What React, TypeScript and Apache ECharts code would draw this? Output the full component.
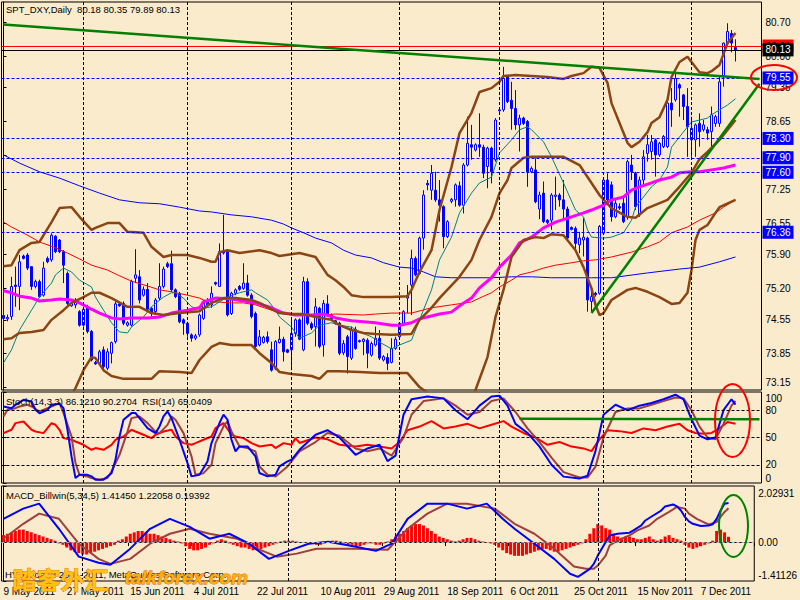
import React, { useEffect, useRef } from "react";
import * as echarts from "echarts";

const SLOTS = 190;
const FONT = "'Liberation Sans', Arial, sans-serif";
const BG = "#FAEBCD";

const dateTicks: [number, string][] = [
  [0, "9 May 2011"], [16, "27 May 2011"], [32, "15 Jun 2011"], [48, "4 Jul 2011"],
  [64, "22 Jul 2011"], [80, "10 Aug 2011"], [96, "29 Aug 2011"], [112, "18 Sep 2011"],
  [128, "6 Oct 2011"], [144, "25 Oct 2011"], [160, "15 Nov 2011"], [176, "7 Dec 2011"],
];
const monthStarts = [20, 46, 72, 99, 124, 150, 172];
const priceTicks = [80.7, 80.0, 79.35, 78.65, 77.95, 77.25, 76.55, 75.9, 75.2, 74.55, 73.85, 73.15];
const stochTicks = [0, 20, 50, 80, 100];
const macdTicks = [-1.41126, 0, 2.02931];
const blueLevels = [79.55, 78.3, 77.9, 77.6, 76.36];

// [open, close, low, high]
const ohlc: number[][] = [
  [74.64, 74.58, 74.42, 75.12], [74.57, 74.6, 74.52, 74.66], [74.62, 75.24, 74.55, 75.44], [75.27, 75.24, 74.82, 75.65],
  [75.24, 75.75, 74.75, 75.89], [75.87, 75.82, 75.8, 75.9], [75.89, 75.62, 75.58, 75.93], [75.65, 75.24, 75.17, 75.65],
  [75.24, 75.34, 75.2, 75.38], [75.34, 75.03, 75.0, 75.38], [75.06, 75.62, 75.03, 75.75], [75.82, 75.75, 75.72, 75.86],
  [75.79, 76.3, 75.75, 76.34], [76.28, 75.96, 75.93, 76.3], [76.2, 75.96, 75.93, 76.22], [75.96, 75.68, 75.31, 75.99],
  [75.51, 74.89, 74.86, 75.55], [74.84, 74.89, 74.82, 74.92], [74.86, 74.93, 74.79, 75.0], [74.72, 74.44, 74.41, 74.75],
  [74.44, 74.77, 74.41, 74.82], [74.82, 74.31, 74.27, 74.86], [74.31, 73.72, 73.69, 74.34], [73.67, 73.64, 73.62, 73.7],
  [73.65, 73.89, 73.62, 73.93], [73.93, 73.58, 73.51, 74.0], [73.55, 73.89, 73.51, 73.96], [73.86, 74.08, 73.65, 74.1],
  [74.1, 74.88, 74.06, 74.93], [74.88, 74.84, 74.82, 74.9], [74.89, 74.48, 74.44, 74.93], [74.44, 74.49, 74.41, 74.52],
  [74.44, 75.34, 74.41, 75.38], [75.41, 75.48, 75.31, 76.01], [75.44, 74.96, 74.89, 75.58], [75.06, 75.18, 75.03, 75.24],
  [75.18, 74.77, 74.75, 75.31], [74.79, 74.68, 74.62, 74.82], [74.72, 74.96, 74.68, 75.0], [75.0, 75.24, 74.96, 75.72],
  [75.24, 75.6, 75.2, 75.65], [75.71, 75.65, 75.62, 75.75], [75.71, 75.17, 75.13, 75.98], [75.17, 75.03, 75.0, 75.2],
  [75.09, 74.51, 74.48, 75.13], [74.55, 74.48, 74.24, 74.58], [74.48, 74.27, 74.2, 74.51], [74.24, 74.17, 74.1, 74.27],
  [74.17, 74.22, 74.13, 74.26], [74.24, 74.65, 74.2, 74.68], [74.58, 74.93, 74.55, 74.96], [74.93, 74.86, 74.82, 75.0],
  [74.86, 75.1, 74.8, 75.24], [75.32, 75.29, 75.26, 75.34], [75.24, 75.96, 75.24, 76.13], [75.96, 75.93, 75.9, 76.72],
  [75.96, 74.65, 74.62, 75.99], [74.68, 75.1, 74.65, 75.13], [75.1, 75.17, 75.06, 75.2], [75.24, 75.18, 75.15, 75.27],
  [75.2, 75.31, 75.17, 75.72], [75.31, 75.06, 75.03, 75.48], [75.06, 74.62, 74.58, 75.1], [74.68, 74.0, 73.96, 74.72],
  [74.03, 74.2, 74.0, 74.34], [74.08, 74.19, 74.06, 74.22], [74.2, 74.1, 74.06, 74.31], [73.93, 73.51, 73.48, 74.1],
  [73.55, 74.1, 73.51, 74.13], [74.08, 74.15, 74.06, 74.41], [74.15, 73.89, 73.69, 74.2], [73.93, 73.88, 73.86, 73.95],
  [73.93, 74.27, 73.51, 74.55], [74.27, 74.55, 74.2, 74.58], [74.55, 74.15, 74.13, 74.58], [73.93, 75.34, 73.9, 75.44],
  [75.34, 74.48, 74.44, 75.41], [74.47, 74.38, 74.34, 74.51], [74.41, 74.82, 74.0, 75.0], [74.79, 74.0, 73.96, 74.82],
  [74.03, 74.89, 73.79, 74.96], [74.88, 74.65, 74.62, 75.06], [74.65, 74.58, 74.55, 74.68], [74.53, 74.48, 74.45, 74.55],
  [74.48, 73.86, 73.82, 74.51], [73.87, 74.06, 73.82, 74.13], [74.2, 73.79, 73.44, 74.24], [73.76, 74.35, 73.72, 74.41],
  [74.35, 73.96, 73.93, 74.41], [74.12, 74.1, 74.08, 74.14], [74.1, 74.15, 73.82, 74.17], [74.13, 73.86, 73.55, 74.17],
  [73.82, 74.06, 73.79, 74.1], [74.03, 74.17, 74.0, 74.41], [74.17, 73.76, 73.72, 74.34], [73.72, 73.79, 73.69, 73.82],
  [73.77, 73.65, 73.51, 73.86], [73.67, 73.96, 73.65, 74.17], [73.96, 74.15, 73.93, 74.2], [74.2, 74.48, 74.17, 74.5],
  [74.48, 74.72, 74.45, 74.75], [75.0, 75.06, 74.69, 75.27], [75.27, 75.82, 74.65, 76.0], [75.82, 75.48, 75.45, 75.86],
  [75.51, 76.24, 75.48, 76.27], [76.24, 77.13, 76.0, 77.23], [77.37, 77.34, 77.23, 77.44], [77.23, 77.58, 77.03, 77.75],
  [77.23, 77.03, 76.99, 77.61], [77.03, 76.92, 76.58, 77.44], [76.89, 76.27, 76.03, 76.92], [76.27, 76.58, 76.24, 76.61],
  [77.0, 77.04, 76.96, 77.07], [77.03, 77.34, 76.89, 77.37], [77.32, 76.92, 76.89, 77.41], [76.92, 77.75, 76.75, 77.79],
  [77.75, 78.2, 77.72, 78.75], [78.17, 78.12, 77.86, 78.58], [78.06, 78.17, 78.03, 78.2], [78.17, 78.12, 77.92, 78.82],
  [78.12, 77.58, 77.48, 78.17], [77.72, 78.1, 77.27, 78.13], [78.1, 77.61, 77.37, 78.13], [77.86, 78.68, 77.82, 78.72],
  [78.87, 78.89, 78.85, 78.92], [78.89, 79.54, 78.85, 79.78], [79.58, 79.06, 79.03, 79.61], [79.09, 78.92, 78.48, 79.47],
  [78.92, 78.58, 78.48, 79.3], [78.58, 78.72, 78.03, 78.79], [78.72, 78.61, 78.58, 78.75], [78.65, 77.61, 77.3, 78.68],
  [77.61, 77.68, 77.58, 77.72], [77.65, 76.99, 76.96, 77.89], [76.84, 77.13, 76.63, 77.2], [77.17, 76.58, 76.55, 77.41],
  [76.61, 76.56, 76.53, 76.63], [76.61, 77.13, 76.41, 77.17], [77.1, 77.13, 76.82, 77.51], [77.13, 77.03, 76.89, 77.17],
  [77.03, 76.84, 76.65, 77.44], [76.84, 76.24, 76.2, 76.89], [76.46, 76.42, 76.4, 76.48], [76.44, 76.13, 75.96, 76.48],
  [76.1, 76.24, 75.93, 76.37], [76.2, 76.26, 75.86, 76.65], [76.24, 74.96, 74.72, 76.27], [74.93, 75.03, 74.72, 75.13],
  [75.1, 75.07, 75.03, 75.13], [75.1, 76.48, 75.07, 76.51], [76.34, 77.44, 76.3, 77.48], [77.44, 77.03, 76.96, 77.58],
  [77.34, 76.68, 76.58, 77.41], [76.68, 76.96, 76.65, 77.03], [76.89, 76.86, 76.82, 76.96], [76.96, 76.58, 76.55, 77.1],
  [76.68, 77.82, 76.62, 77.86], [77.75, 77.61, 77.44, 77.96], [77.58, 76.89, 76.82, 77.61], [76.72, 77.44, 76.68, 77.51],
  [77.44, 77.92, 77.3, 78.06], [77.99, 78.17, 77.82, 78.37], [78.03, 78.23, 77.86, 78.37], [78.27, 77.96, 77.51, 78.3],
  [77.96, 78.2, 77.92, 78.23], [78.13, 78.34, 78.1, 78.37], [78.13, 79.03, 78.1, 79.1], [79.03, 78.89, 78.54, 79.34],
  [79.1, 79.54, 79.06, 79.65], [79.41, 79.34, 78.75, 79.44], [79.2, 78.96, 78.68, 79.22], [78.96, 78.54, 77.92, 79.34],
  [78.27, 78.51, 77.92, 78.75], [78.27, 78.58, 77.92, 78.61], [78.61, 78.44, 78.13, 78.82], [78.48, 78.58, 78.44, 78.68],
  [78.48, 78.41, 78.27, 78.54], [78.44, 78.79, 78.1, 78.96], [78.61, 78.75, 78.54, 78.79], [78.61, 79.47, 78.54, 79.58],
  [79.59, 80.27, 79.37, 80.28], [80.27, 80.51, 80.23, 80.68], [80.47, 80.27, 80.08, 80.54], [80.18, 80.13, 79.89, 80.35],
];

// sampled indicator readings: [bar index, value]
const bbUpper: number[][] = [
  [0, 75.66], [2, 75.68], [4, 75.99], [7, 76.14], [9, 76.16], [12, 76.57], [14, 76.86], [17, 76.88], [19, 76.68],
  [22, 76.41], [23, 76.45], [26, 76.55], [29, 76.55], [31, 76.37], [35, 76.35], [37, 76.06], [40, 75.85], [42, 75.89],
  [46, 75.89], [49, 75.83], [52, 75.75], [53, 75.75], [54, 75.95], [56, 75.99], [59, 75.93], [64, 75.99], [67, 75.93],
  [69, 75.87], [74, 75.93], [78, 75.85], [81, 75.48], [83, 75.37], [85, 75.23], [87, 75.06], [90, 75.02], [97, 75.02],
  [101, 75.04], [102, 75.17], [104, 75.54], [107, 75.99], [109, 76.82], [112, 77.71], [114, 78.41], [117, 78.83],
  [119, 79.26], [122, 79.34], [124, 79.47], [125, 79.59], [128, 79.61], [136, 79.57], [140, 79.53], [142, 79.59],
  [145, 79.65], [147, 79.78], [149, 79.76], [151, 79.45], [152, 79.03], [154, 78.62], [156, 78.21], [157, 78.12],
  [159, 78.23], [161, 78.43], [162, 78.62], [164, 78.74], [166, 79.1], [167, 79.57], [169, 79.88], [171, 79.99],
  [172, 79.88], [174, 79.67], [176, 79.65], [177, 79.69], [179, 79.82], [181, 80.27], [183, 80.48],
];
const bbMiddle: number[][] = [
  [0, 74.15], [2, 74.17], [4, 74.28], [7, 74.3], [10, 74.34], [12, 74.55], [15, 74.75], [17, 74.9], [20, 75.02],
  [22, 75.11], [24, 75.11], [27, 75.0], [31, 74.82], [34, 74.82], [37, 74.69], [40, 74.65], [44, 74.69], [49, 74.73],
  [52, 74.9], [55, 75.0], [58, 75.0], [62, 74.96], [64, 74.9], [67, 74.77], [69, 74.69], [72, 74.67], [75, 74.67],
  [78, 74.61], [82, 74.55], [84, 74.44], [87, 74.34], [90, 74.28], [93, 74.26], [97, 74.24], [102, 74.26], [104, 74.55],
  [107, 74.8], [109, 75.0], [114, 75.44], [117, 75.79], [119, 76.2], [122, 76.68], [124, 77.17], [126, 77.44],
  [127, 77.69], [130, 77.9], [132, 77.92], [140, 77.92], [144, 77.75], [147, 77.38], [149, 77.13], [152, 76.86],
  [156, 76.68], [158, 76.66], [161, 76.86], [166, 77.03], [169, 77.3], [172, 77.59], [174, 77.87], [176, 78.02],
  [179, 78.27], [183, 78.68],
];
const bbLower: number[][] = [
  [16, 72.85], [18, 73.14], [20, 73.51], [22, 73.78], [23, 73.76], [25, 73.51], [27, 73.39], [30, 73.33], [37, 73.33],
  [39, 73.49], [44, 73.47], [47, 73.45], [49, 73.72], [52, 73.99], [54, 74.07], [57, 74.03], [62, 74.03], [64, 73.86],
  [67, 73.66], [69, 73.47], [72, 73.43], [77, 73.39], [79, 73.33], [81, 73.49], [84, 73.49], [89, 73.47], [94, 73.45],
  [101, 73.45], [104, 73.16], [107, 72.98], [110, 72.9], [113, 72.6], [116, 72.7], [118, 73.1], [121, 73.78],
  [123, 74.61], [125, 75.17], [127, 75.85], [130, 76.2], [133, 76.26], [135, 76.24], [137, 76.32], [140, 76.3],
  [143, 75.99], [145, 75.64], [147, 75.2], [148, 74.86], [149, 74.65], [150, 74.69], [152, 74.96], [156, 75.17],
  [158, 75.21], [161, 75.13], [164, 75.02], [167, 74.88], [169, 74.9], [171, 75.11], [172, 75.58], [173, 76.2],
  [174, 76.41], [176, 76.51], [178, 76.76], [179, 76.88], [183, 77.03],
];
const maTeal: number[][] = [
  [0, 73.66], [2, 73.93], [4, 74.34], [7, 74.75], [9, 75.02], [12, 75.31], [13, 75.48], [15, 75.62], [17, 75.54],
  [19, 75.37], [22, 75.23], [23, 75.02], [25, 74.75], [27, 74.49], [29, 74.3], [31, 74.28], [32, 74.4], [35, 74.61],
  [37, 74.82], [40, 75.02], [42, 75.11], [43, 75.11], [45, 75.0], [47, 74.82], [49, 74.77], [52, 74.82], [54, 74.92],
  [56, 75.02], [59, 75.11], [62, 75.17], [63, 75.11], [66, 74.96], [68, 74.75], [69, 74.61], [72, 74.4], [74, 74.17],
  [77, 74.28], [79, 74.44], [82, 74.49], [84, 74.44], [87, 74.4], [89, 74.3], [92, 74.2], [94, 74.09], [97, 73.95],
  [99, 74.03], [102, 74.13], [104, 74.55], [107, 75.17], [109, 75.79], [112, 76.26], [114, 76.76], [117, 77.17],
  [119, 77.38], [122, 77.5], [124, 78.0], [127, 78.27], [129, 78.48], [131, 78.54], [132, 78.48], [135, 78.23],
  [137, 77.92], [140, 77.38], [143, 76.82], [145, 76.68], [146, 76.41], [147, 76.26], [150, 76.24], [152, 76.26],
  [155, 76.35], [157, 76.61], [158, 76.88], [160, 77.09], [162, 77.3], [164, 77.44], [166, 77.71], [167, 78.12],
  [169, 78.33], [171, 78.54], [172, 78.64], [174, 78.68], [176, 78.72], [177, 78.79], [179, 78.89], [181, 78.99],
  [183, 79.12],
];
const maMagenta: number[][] = [
  [0, 75.15], [2, 75.11], [4, 75.04], [7, 75.0], [9, 74.94], [12, 74.96], [14, 74.98], [17, 74.96], [19, 74.9],
  [22, 74.77], [24, 74.69], [27, 74.59], [29, 74.57], [32, 74.59], [36, 74.59], [39, 74.61], [42, 74.69], [46, 74.75],
  [49, 74.8], [50, 74.92], [53, 75.0], [57, 74.98], [60, 74.94], [63, 74.9], [67, 74.8], [70, 74.69], [73, 74.65],
  [77, 74.65], [80, 74.67], [83, 74.59], [87, 74.53], [90, 74.51], [93, 74.49], [97, 74.44], [99, 74.44], [102, 74.49],
  [104, 74.57], [107, 74.63], [109, 74.67], [112, 74.71], [114, 74.84], [117, 75.0], [119, 75.21], [122, 75.42],
  [124, 75.64], [127, 75.89], [129, 76.14], [132, 76.26], [135, 76.45], [138, 76.57], [142, 76.68], [145, 76.76],
  [147, 76.82], [150, 76.92], [152, 77.03], [155, 77.09], [157, 77.23], [159, 77.3], [162, 77.38], [164, 77.44],
  [167, 77.5], [169, 77.59], [172, 77.61], [174, 77.61], [177, 77.65], [180, 77.69], [183, 77.75],
];
const maRed: number[][] = [
  [0, 76.57], [2, 76.47], [6, 76.3], [9, 76.16], [13, 76.04], [16, 75.93], [19, 75.81], [22, 75.68], [26, 75.58],
  [29, 75.46], [32, 75.35], [36, 75.25], [39, 75.17], [42, 75.13], [46, 75.06], [49, 75.0], [50, 74.96], [53, 74.92],
  [57, 74.9], [60, 74.9], [63, 74.86], [67, 74.75], [70, 74.69], [73, 74.65], [80, 74.65], [83, 74.67], [90, 74.65],
  [93, 74.67], [97, 74.69], [102, 74.69], [107, 74.8], [112, 74.86], [117, 74.92], [119, 75.0], [122, 75.11],
  [124, 75.23], [127, 75.37], [129, 75.48], [132, 75.54], [135, 75.62], [138, 75.68], [142, 75.73], [145, 75.77],
  [148, 75.79], [152, 75.85], [157, 75.95], [161, 76.06], [164, 76.16], [167, 76.35], [171, 76.47], [174, 76.61],
  [178, 76.76], [180, 76.88], [183, 77.03],
];
const maBlue: number[][] = [
  [0, 77.96], [4, 77.79], [9, 77.61], [14, 77.48], [19, 77.32], [24, 77.17], [29, 77.03], [34, 76.97], [39, 76.95],
  [44, 76.88], [49, 76.8], [52, 76.78], [57, 76.72], [62, 76.68], [67, 76.61], [70, 76.53], [72, 76.45], [75, 76.35],
  [78, 76.24], [82, 76.14], [85, 75.99], [88, 75.89], [92, 75.83], [95, 75.73], [99, 75.64], [102, 75.62], [105, 75.54],
  [108, 75.44], [112, 75.42], [122, 75.42], [127, 75.44], [132, 75.44], [137, 75.42], [147, 75.42], [152, 75.42],
  [161, 75.52], [169, 75.6], [174, 75.64], [179, 75.75], [183, 75.85],
];

const stochK: number[][] = [
  [0, 84.1], [2, 82.2], [3, 85.9], [5, 91.4], [7, 89.5], [8, 80.4], [9, 76.6], [11, 80.4], [12, 85.9], [14, 87.0],
  [15, 82.2], [16, 58.5], [17, 29.2], [18, 5.4], [19, 9.0], [21, 9.0], [22, 7.3], [23, 3.5], [25, 3.5], [27, 10.8],
  [28, 25.5], [29, 51.2], [30, 69.5], [32, 76.8], [33, 76.8], [34, 71.3], [36, 60.3], [38, 54.8], [39, 62.1],
  [40, 73.1], [41, 78.6], [42, 71.3], [44, 47.5], [46, 21.9], [47, 7.3], [49, 9.0], [51, 23.7], [52, 43.9], [54, 65.9],
  [55, 75.1], [56, 69.5], [57, 47.5], [58, 34.7], [59, 40.2], [61, 40.2], [63, 29.2], [64, 11.0], [66, 7.3], [68, 9.0],
  [69, 18.2], [71, 23.7], [72, 25.5], [74, 36.5], [78, 53], [81, 58], [84, 50], [88, 31], [91, 38], [94, 42], [96, 24],
  [98, 30], [100, 75], [102, 92], [106, 95], [110, 93], [113, 80], [116, 70], [119, 85], [122, 95], [124, 96],
  [126, 85], [128, 65], [131, 55], [134, 40], [137, 20], [140, 7], [144, 5], [146, 8], [148, 35], [150, 75], [153, 86],
  [156, 80], [159, 85], [162, 88], [165, 92], [168, 97], [170, 92], [172, 70], [174, 52], [176, 48], [178, 50],
  [180, 80], [182, 92], [183, 86.12],
];
const stochD: number[][] = [
  [0, 73.1], [1, 80.4], [3, 82.2], [4, 84.1], [6, 85.9], [7, 84.1], [9, 78.6], [11, 82.2], [12, 84.1], [14, 87.7],
  [15, 76.8], [17, 51.2], [18, 21.9], [19, 9.0], [21, 7.1], [22, 5.4], [24, 3.5], [26, 5.4], [27, 12.6], [29, 30.9],
  [31, 56.5], [32, 71.3], [34, 73.1], [36, 65.8], [38, 56.5], [39, 54.8], [41, 63.9], [42, 73.1], [43, 69.5],
  [45, 54.8], [47, 29.2], [48, 9.0], [50, 10.8], [52, 20.0], [53, 43.8], [55, 62.1], [56, 67.6], [57, 56.6], [59, 40.2],
  [61, 38.3], [63, 34.7], [64, 18.2], [66, 9.0], [68, 7.1], [69, 10.8], [71, 18.2], [72, 23.7], [74, 34.7], [78, 45],
  [81, 55], [84, 52], [88, 38], [91, 35], [94, 38], [97, 30], [100, 50], [102, 75], [105, 90], [110, 93], [113, 85],
  [116, 75], [119, 78], [122, 90], [125, 93], [128, 78], [131, 60], [134, 45], [137, 28], [140, 12], [144, 6],
  [146, 6], [148, 18], [150, 50], [153, 78], [156, 82], [159, 82], [162, 86], [165, 90], [168, 94], [170, 93],
  [172, 80], [174, 62], [176, 50], [178, 48], [180, 65], [182, 85], [183, 90.27],
];
const rsi: number[][] = [
  [0, 54.8], [2, 58.5], [3, 65.8], [5, 67.6], [7, 58.5], [8, 56.6], [10, 54.8], [12, 65.8], [13, 64.0], [14, 58.5],
  [15, 49.3], [17, 47.5], [18, 45.6], [20, 42.0], [22, 36.5], [23, 38.4], [25, 36.5], [27, 42.0], [28, 47.5],
  [30, 51.1], [32, 58.5], [33, 56.6], [35, 53.0], [37, 49.3], [38, 53.0], [40, 56.6], [42, 58.5], [43, 51.1],
  [45, 43.8], [47, 42.0], [48, 43.8], [50, 47.5], [52, 51.1], [53, 60.3], [55, 65.8], [57, 53.0], [58, 51.1],
  [60, 49.3], [62, 43.8], [64, 40.1], [67, 42.0], [68, 38.4], [70, 43.8], [72, 42.0], [73, 49.3], [74, 44], [78, 50],
  [81, 48], [84, 42], [88, 40], [91, 42], [94, 40], [97, 38], [99, 45], [101, 58], [104, 62], [107, 68], [110, 60],
  [113, 62], [116, 65], [119, 60], [122, 64], [125, 68], [127, 62], [130, 55], [133, 50], [136, 42], [139, 45],
  [142, 40], [145, 38], [147, 35], [149, 48], [151, 58], [154, 57], [157, 55], [160, 60], [163, 58], [166, 62],
  [169, 65], [171, 58], [173, 55], [175, 54], [177, 55], [179, 60], [181, 67], [183, 65.04],
];

const macdMain: number[][] = [
  [0, 0.84], [5, 1.21], [9, 1.39], [14, 0.48], [19, -0.53], [24, -0.75], [27, -0.82], [32, -0.24], [37, 0.48],
  [42, 0.84], [47, 0.55], [52, 0.12], [57, 0.3], [62, -0.06], [67, -0.61], [72, -0.32], [77, -0.06], [82, 0.01],
  [89, -0.17], [94, -0.32], [98, -0.06], [102, 0.84], [107, 1.39], [112, 1.39], [117, 1.21], [122, 1.39], [126, 0.84],
  [129, 0.48], [134, -0.06], [139, -0.61], [143, -1.15], [145, -1.26], [148, -0.97], [149, -0.79], [150, -0.49],
  [151, -0.24], [152, 0.0], [153, 0.24], [155, 0.3], [158, 0.34], [159, 0.42], [161, 0.6], [162, 0.78], [164, 0.96],
  [166, 1.14], [167, 1.29], [169, 1.36], [170, 1.29], [171, 1.14], [172, 0.91], [173, 0.75], [174, 0.66], [176, 0.58],
  [178, 0.6], [179, 0.64], [180, 0.84], [181, 1.14], [182, 1.39], [183, 1.4145],
];
const macdSignal: number[][] = [
  [0, 0.12], [5, 0.66], [9, 1.03], [14, 0.84], [19, -0.06], [24, -0.61], [27, -0.79], [32, -0.61], [37, -0.06],
  [42, 0.3], [47, 0.48], [52, 0.3], [59, 0.12], [64, -0.24], [69, -0.53], [74, -0.42], [79, -0.24], [89, -0.24],
  [97, -0.28], [102, 0.48], [107, 1.03], [112, 1.39], [117, 1.39], [124, 1.21], [129, 0.66], [134, 0.3], [139, -0.24],
  [144, -0.89], [147, -0.97], [149, -0.97], [150, -0.85], [152, -0.49], [153, -0.12], [155, 0.06], [158, 0.24],
  [160, 0.42], [163, 0.6], [165, 0.84], [168, 1.09], [170, 1.27], [172, 1.21], [173, 1.03], [175, 0.84], [177, 0.7],
  [178, 0.64], [180, 0.72], [181, 0.91], [182, 1.09], [183, 1.2206],
];
const macdHist: number[] = [
  0.25, 0.3, 0.35, 0.4, 0.45, 0.45, 0.4, 0.35, 0.3, 0.25, 0.2, 0.15, 0.1, 0.05,
  -0.05, -0.1, -0.2, -0.3, -0.35, -0.4, -0.45, -0.45, -0.4, -0.35, -0.3, -0.25, -0.2, -0.15, -0.1,
  0.05, 0.1, 0.2, 0.3, 0.35, 0.4, 0.4, 0.35, 0.3, 0.3, 0.25, 0.2, 0.15, 0.1, 0.05, 0.02,
  -0.05, -0.15, -0.25, -0.3, -0.3, -0.25, -0.2, -0.1, -0.05, 0.05, 0.1, 0.05,
  -0.05, -0.1, -0.15, -0.2, -0.2, -0.25, -0.3, -0.3, -0.25, -0.2, -0.15, -0.1, -0.05, 0.02, 0.05, 0.05, 0.05, 0.02, 0,
  -0.02, -0.05, -0.05, -0.1, -0.1, -0.05, 0.02, 0.05, 0.05, 0.02, -0.05, -0.1, -0.1, -0.15, -0.15, -0.1, -0.05, -0.05, -0.1, -0.1, -0.05, 0.02, 0.1,
  0.2, 0.3, 0.4, 0.5, 0.6, 0.65, 0.65, 0.6, 0.5, 0.4, 0.3, 0.2, 0.15, 0.1, 0.05, 0.02,
  0.05, 0.1, 0.15, 0.15, 0.1, 0.05, 0.02, -0.02, -0.05, -0.1, -0.2, -0.3,
  -0.4, -0.45, -0.5, -0.5, -0.5, -0.45, -0.4, -0.35, -0.3, -0.25, -0.25, -0.3, -0.35, -0.35, -0.3, -0.25, -0.2, -0.15, -0.1, -0.05,
  0.1, 0.3, 0.5, 0.65, 0.6, 0.5, 0.45, 0.3, 0.2, 0.15, 0.2, 0.2, 0.15, 0.1, 0.1, 0.15, 0.2, 0.1, 0.05, 0.1, 0.2, 0.25, 0.15, 0.1, 0.05,
  -0.1, -0.2, -0.25, -0.2, -0.15, -0.1, -0.05, 0.05, 0.4, 0.45, 0.35, 0.19,
];

const trendDown: number[][] = [[0, 80.654], [189, 79.53]];
const trendUp: number[][] = [[147, 74.69], [189, 79.43]];
const stochTrend: number[][] = [[129, 70.6], [189, 70.0]];

export default function App() {
  const ref = useRef<HTMLDivElement>(null);
  useEffect(() => {
    if (!ref.current) return;
    const chart = echarts.init(ref.current, undefined, { renderer: "svg" });
    const cats: string[] = [];
    for (let i = 0; i < SLOTS; i++) cats.push("");
    dateTicks.forEach(([i, t]) => (cats[i] = t));
    const tickOn = (i: number) => cats[i] !== "";

    const monthMarks = monthStarts.map((k) => ({ xAxis: k }));
    const vDash = { color: "#000", width: 1, type: [3, 2] as any };
    const line = (data: number[][], xi: number, yi: number, color: string, width: number, extra: any = {}) => ({
      type: "line", data, xAxisIndex: xi, yAxisIndex: yi, symbol: "none", silent: true,
      lineStyle: { color, width }, z: 3, ...extra,
    });
    const boxLabel = (text: string, bg: string, fg: string) => ({
      show: true, position: "end", formatter: text, backgroundColor: bg, color: fg,
      fontFamily: FONT, fontSize: 10, padding: [2, 3, 1, 3], distance: 1,
    });

    const valueX = (grid: number) => ({ type: "value", gridIndex: grid, min: -0.5, max: SLOTS - 0.5, show: false });
    const yLabel = { fontFamily: FONT, fontSize: 10, color: "#000", align: "left", margin: 4 };

    const option: any = {
      animation: false,
      backgroundColor: BG,
      grid: [
        { left: 1.5, top: 2, width: 760, height: 388, show: true, borderColor: "#000", borderWidth: 1 },
        { left: 1.5, top: 392, width: 760, height: 91, show: true, borderColor: "#000", borderWidth: 1 },
        { left: 1.5, top: 486, width: 760, height: 95, show: true, borderColor: "#000", borderWidth: 1 },
      ],
      xAxis: [
        { type: "category", gridIndex: 0, data: cats, show: false },
        valueX(0),
        valueX(1),
        {
          type: "category", gridIndex: 2, data: cats,
          axisLine: { lineStyle: { color: "#000" } },
          axisTick: { show: true, interval: tickOn, length: 4, lineStyle: { color: "#000" } },
          axisLabel: { interval: tickOn, align: "left", fontFamily: FONT, fontSize: 10, color: "#000", margin: 5 },
          splitLine: { show: false },
        },
        valueX(2),
      ],
      yAxis: [
        {
          type: "value", gridIndex: 0, position: "right", min: 73.1, max: 81.12, scale: true,
          axisLine: { show: true, lineStyle: { color: "#000" } },
          axisTick: { show: true, customValues: priceTicks, length: 3, lineStyle: { color: "#000" } },
          axisLabel: {
            ...yLabel, customValues: priceTicks,
            formatter: (v: number) => (Math.abs(v - 73.15) < 1e-6 ? "{lo|73.15}" : v.toFixed(2)),
            rich: { lo: { fontFamily: FONT, fontSize: 10, padding: [0, 0, 10, 0] } },
          },
          splitLine: { show: false },
        },
        {
          type: "value", gridIndex: 1, position: "right", min: 0, max: 100,
          axisLine: { show: true, lineStyle: { color: "#000" } },
          axisTick: { show: true, customValues: stochTicks, length: 3, lineStyle: { color: "#000" } },
          axisLabel: {
            ...yLabel, customValues: stochTicks,
            formatter: (v: number) => (v === 100 ? "{hi|100}" : v === 0 ? "{lo|0}" : String(v)),
            rich: {
              hi: { fontFamily: FONT, fontSize: 10, padding: [12, 0, 0, 0] },
              lo: { fontFamily: FONT, fontSize: 10, padding: [0, 0, 10, 0] },
            },
          },
          splitLine: { show: false },
        },
        {
          type: "value", gridIndex: 2, position: "right", min: -1.41126, max: 2.02931,
          axisLine: { show: true, lineStyle: { color: "#000" } },
          axisTick: { show: true, customValues: macdTicks, length: 3, lineStyle: { color: "#000" } },
          axisLabel: {
            ...yLabel, customValues: macdTicks,
            formatter: (v: number) =>
              v > 2 ? "{hi|2.02931}" : v < -1 ? "{lo|-1.41126}" : "0.00",
            rich: {
              hi: { fontFamily: FONT, fontSize: 10, padding: [14, 0, 0, 0] },
              lo: { fontFamily: FONT, fontSize: 10, padding: [0, 0, 12, 0] },
            },
          },
          splitLine: { show: false },
        },
      ],
      series: [
        {
          type: "candlestick", xAxisIndex: 0, yAxisIndex: 0, data: ohlc, barWidth: 2, silent: true, z: 2,
          itemStyle: { color: "#FFFFFF", color0: "#0000FF", borderColor: "#0000FF", borderColor0: "#0000FF", borderWidth: 1 },
        },
        line(maBlue, 1, 0, "#0000FF", 1),
        line(maRed, 1, 0, "#FF0000", 1),
        line(maTeal, 1, 0, "#008080", 1),
        line(maMagenta, 1, 0, "#FF00FF", 3),
        line(bbUpper, 1, 0, "#8B4513", 2.5),
        line(bbLower, 1, 0, "#8B4513", 2.5),
        line(bbMiddle, 1, 0, "#8B4513", 2.5, {
          markLine: {
            silent: true, symbol: ["none", "none"], animation: false,
            data: [
              ...monthMarks.map((m) => ({ ...m, lineStyle: vDash, label: { show: false } })),
              ...blueLevels.map((v) => ({
                yAxis: v, lineStyle: { color: "#0000FF", width: 1, type: [3, 2] },
                label: boxLabel(v.toFixed(2), "#0000FF", "#FFFFFF"),
              })),
              { yAxis: 80.21, lineStyle: { color: "#FF0000", width: 1, type: "solid" }, label: boxLabel("80.21", "#FF0000", "#000000") },
              { yAxis: 80.13, lineStyle: { color: "#000000", width: 1, type: "solid" }, label: boxLabel("80.13", "#000000", "#FFFFFF") },
              [
                { coord: trendDown[0], lineStyle: { color: "#008000", width: 2.5, type: "solid" }, label: { show: false } },
                { coord: trendDown[1] },
              ],
              [
                { coord: trendUp[0], lineStyle: { color: "#008000", width: 2.5, type: "solid" }, label: { show: false } },
                { coord: trendUp[1] },
              ],
            ],
          },
        }),
        line(rsi, 2, 1, "#FF0000", 2),
        line(stochD, 2, 1, "#A0403A", 2),
        line(stochK, 2, 1, "#0000FF", 2, {
          markLine: {
            silent: true, symbol: ["none", "none"], animation: false,
            data: [
              ...monthMarks.map((m) => ({ ...m, lineStyle: vDash, label: { show: false } })),
              ...[80, 50, 20].map((v) => ({ yAxis: v, lineStyle: vDash, label: { show: false } })),
              [
                { coord: stochTrend[0], lineStyle: { color: "#008000", width: 2.5, type: "solid" }, label: { show: false } },
                { coord: stochTrend[1] },
              ],
            ],
          },
        }),
        {
          type: "bar", xAxisIndex: 3, yAxisIndex: 2, data: macdHist, barWidth: 3, silent: true,
          itemStyle: { color: "#FF0000" }, z: 2,
        },
        line(macdSignal, 4, 2, "#A0403A", 2),
        line(macdMain, 4, 2, "#0000FF", 2, {
          markLine: {
            silent: true, symbol: ["none", "none"], animation: false,
            data: [
              ...monthMarks.map((m) => ({ ...m, lineStyle: vDash, label: { show: false } })),
              { yAxis: 0, lineStyle: { color: "#B0B0B0", width: 1, type: [3, 2] }, label: { show: false } },
            ],
          },
        }),
      ],
      graphic: [
        { type: "text", left: 6, top: 4, z: 100, style: { text: "SPT_DXY,Daily  80.18 80.35 79.89 80.13", fill: "#000", font: `9.5px ${FONT}` } },
        { type: "text", left: 6, top: 396, z: 100, style: { text: "Stoch(14,3,3) 86.1210 90.2704  RSI(14) 65.0409", fill: "#000", font: `9.5px ${FONT}` } },
        { type: "text", left: 6, top: 490, z: 100, style: { text: "MACD_Billwin(5,34,5) 1.41450 1.22058 0.19392", fill: "#000", font: `9.5px ${FONT}` } },
        { type: "text", left: 5, top: 569, z: 100, style: { text: "HY Trader 2 2001-2011, MetaQuotes Software Corp.", fill: "#000", font: `9.5px ${FONT}` } },
        { type: "ellipse", z: 100, shape: { cx: 774, cy: 77.5, rx: 23, ry: 12.5 }, style: { fill: "none", stroke: "#FF0000", lineWidth: 2 } },
        { type: "ellipse", z: 100, shape: { cx: 732.5, cy: 420.5, rx: 17.5, ry: 36.5 }, style: { fill: "none", stroke: "#FF0000", lineWidth: 2 } },
        { type: "ellipse", z: 100, shape: { cx: 733.5, cy: 526, rx: 14.5, ry: 31 }, style: { fill: "none", stroke: "#008000", lineWidth: 2 } },
        {
          type: "text", left: 12, top: 566, z: 101,
          style: { text: "踏客外汇", font: `bold 24px 'Noto Sans CJK SC'`, fill: "#FFC20E", stroke: "#E86A00", lineWidth: 0.8 },
        },
        {
          type: "text", left: 124, top: 568, z: 101,
          style: { text: "talkforex.com", font: `italic bold 19px ${FONT}`, fill: "#FFB000", stroke: "#D85A00", lineWidth: 0.8 },
        },
      ],
    };
    chart.setOption(option);
    return () => chart.dispose();
  }, []);
  return <div ref={ref} style={{ position: "fixed", left: 0, top: 0, width: 800, height: 600, background: BG }} />;
}
